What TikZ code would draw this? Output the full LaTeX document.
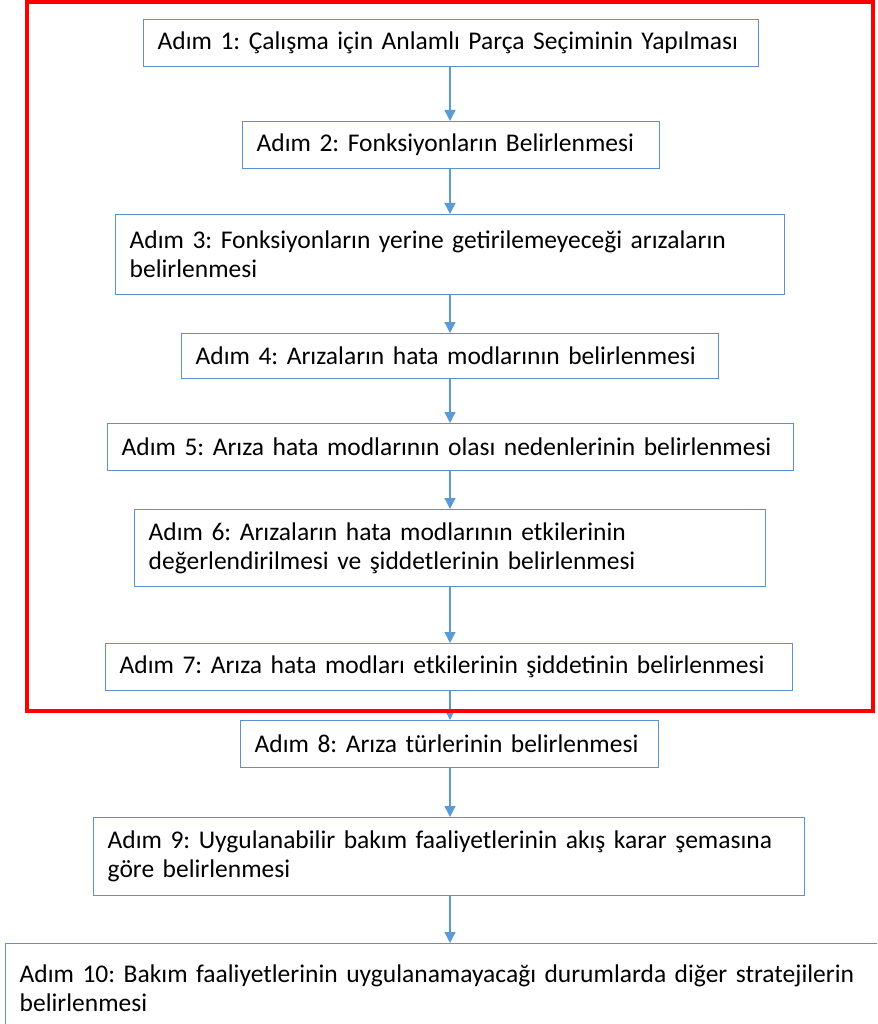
\documentclass[tikz,border=0pt]{standalone}
\usepackage{fontspec}
\setmainfont{Carlito}
\usepackage{xcolor}
\definecolor{boxblue}{RGB}{91,145,205}
\definecolor{arrowblue}{RGB}{91,155,213}
\definecolor{framered}{RGB}{255,0,0}
\usepackage{tikz}
\usetikzlibrary{arrows.meta}
\frenchspacing
\newcommand{\padstep}{14pt}
\tikzset{
    stepbox/.style={anchor=north west, draw=boxblue, line width=1.4pt, fill=white,
        align=left, inner xsep=\padstep, inner ysep=0pt,
        font=\fontsize{25.5}{29}\selectfont},
    onestep/.style={stepbox, minimum height=47pt},
    twostep/.style={stepbox, minimum height=80pt},
    flow/.style={arrowblue, line width=1.3pt, -{Triangle[width=11pt,length=11pt]}},
    frame/.style={framered, line width=4pt}
}

\begin{document}
\begin{tikzpicture}[x=1pt, y=-1pt]
    \useasboundingbox (0,0) rectangle (877,1024);
    \clip (0,0) rectangle (877,1024);
    % steps
    \node[onestep, text width=615-28] (s1) at (143,19) {Adım 1: Çalışma için Anlamlı Parça Seçiminin Yapılması};
    \node[onestep, text width=417-28] (s2) at (242,121) {Adım 2: Fonksiyonların Belirlenmesi};
    \node[twostep, text width=669-28] (s3) at (115,214) {Adım 3: Fonksiyonların yerine getirilemeyeceği arızaların\\belirlenmesi};
    \node[onestep, text width=537-28, minimum height=45pt] (s4) at (181,333) {Adım 4: Arızaların hata modlarının belirlenmesi};
    \node[onestep, text width=686-28] (s5) at (107,423) {Adım 5: Arıza hata modlarının olası nedenlerinin belirlenmesi};
    \node[twostep, text width=631-28, minimum height=77pt] (s6) at (134,509) {Adım 6: Arızaların hata modlarının etkilerinin\\değerlendirilmesi ve şiddetlerinin belirlenmesi};
    \node[onestep, text width=687-28] (s7) at (105,643) {Adım 7: Arıza hata modları etkilerinin şiddetinin belirlenmesi};
    \node[onestep, text width=418-28] (s8) at (240,720) {Adım 8: Arıza türlerinin belirlenmesi};
    \node[twostep, text width=711-28, minimum height=78pt] (s9) at (93,817) {Adım 9: Uygulanabilir bakım faaliyetlerinin akış karar şemasına\\göre belirlenmesi};
    \node[twostep, text width=890-28, minimum height=90pt] (s10) at (5,943) {Adım 10: Bakım faaliyetlerinin uygulanamayacağı durumlarda diğer stratejilerin\\belirlenmesi};
    % arrows
    \foreach \a/\b in {s1/s2, s2/s3, s3/s4, s4/s5, s5/s6, s6/s7, s7/s8, s8/s9, s9/s10}
        \draw[flow] (450,0 |- \a.south) -- (450,0 |- \b.north);
    % red frame
    \draw[frame] (27,2) rectangle (873,711);
\end{tikzpicture}
\end{document}
